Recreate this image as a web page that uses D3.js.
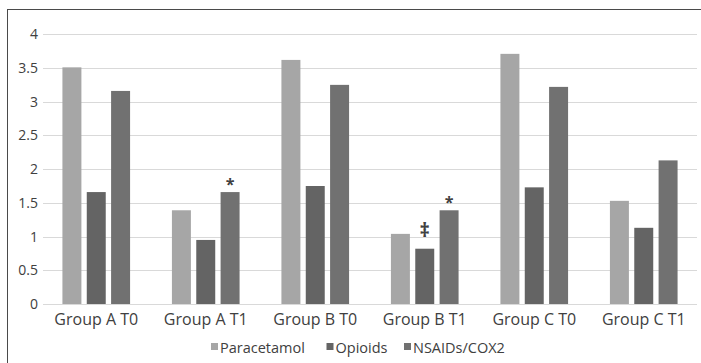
<!DOCTYPE html>
<html><head><meta charset="utf-8">
<script src="https://cdn.jsdelivr.net/npm/d3@7"></script>
<style>
body{margin:0;background:#fff;}
text{font-family:"Open Sans","Noto Sans",sans-serif;fill:#404040;}
</style></head>
<body><svg id="c" width="701" height="363"></svg>
<script>
const categories = ["Group A T0","Group A T1","Group B T0","Group B T1","Group C T0","Group C T1"];
const seriesNames = ["Paracetamol","Opioids","NSAIDs/COX2"];
const paracetamol = [3.51,1.39,3.62,1.04,3.71,1.53];
const opioids = [1.66,0.95,1.75,0.82,1.73,1.13];
const nsaids = [3.16,1.66,3.25,1.39,3.22,2.13];
const yTicks = [0,0.5,1,1.5,2,2.5,3,3.5,4];
const yTickLabels = ["0","0.5","1","1.5","2","2.5","3","3.5","4"];
const annotations = [
  {cat:"Group A T1", series:"NSAIDs/COX2", mark:"*"},
  {cat:"Group B T1", series:"Opioids", mark:"‡"},
  {cat:"Group B T1", series:"NSAIDs/COX2", mark:"*"}
];
const colors = ["#a6a6a6","#646464","#717171"];
const values = [paracetamol, opioids, nsaids];

const svg = d3.select("#c");
svg.append("rect").attr("x",7.5).attr("y",9.5).attr("width",720).attr("height",380)
  .attr("fill","none").attr("stroke","#4a4a4a").attr("stroke-width",1);

const x0 = d3.scaleBand().domain(categories).range([41.5,698.5]).padding(0);
const x1 = d3.scaleBand().domain(seriesNames).range([0,x0.bandwidth()]).paddingInner(0.22).paddingOuter(0.86);
const y = d3.scaleLinear().domain([0,4]).range([304,34.3]);

const grid = svg.append("g");
grid.selectAll("line").data(yTicks).join("line")
  .attr("x1",43).attr("x2",697)
  .attr("y1",d=>Math.round(y(d))+0.5).attr("y2",d=>Math.round(y(d))+0.5)
  .attr("stroke","#d9d9d9").attr("stroke-width",1);

const yAxis = d3.axisLeft(y).tickValues(yTicks).tickFormat((d,i)=>yTickLabels[i]).tickSize(0).tickPadding(5);
const ya = svg.append("g").attr("transform","translate(43,0)").call(yAxis);
ya.select(".domain").remove();
ya.selectAll("text").attr("font-size",14).attr("fill","#404040")
  .style("font-family",'"Open Sans","Noto Sans",sans-serif');

const groups = svg.append("g").selectAll("g").data(categories).join("g")
  .attr("transform",d=>`translate(${x0(d)},0)`);
groups.selectAll("rect").data((d,i)=>seriesNames.map((s,j)=>({s,j,v:values[j][i]})))
  .join("rect")
  .attr("x",d=>x1(d.s)).attr("width",x1.bandwidth())
  .attr("y",d=>y(d.v)).attr("height",d=>y(0)-y(d.v))
  .attr("fill",d=>colors[d.j]);

const catIndex = c=>categories.indexOf(c);
svg.append("g").selectAll("text").data(annotations).join("text")
  .attr("x",d=>x0(d.cat)+x1(d.series)+x1.bandwidth()/2)
  .attr("y",d=>{const j=seriesNames.indexOf(d.series);return y(values[j][catIndex(d.cat)])-(d.mark==="*"?2:12);})
  .attr("text-anchor","middle").attr("font-size",d=>d.mark==="*"?16:20).attr("font-weight","bold")
  .attr("fill","#222").text(d=>d.mark);

const xAxis = d3.axisBottom(x0).tickSize(0).tickPadding(10);
const xa = svg.append("g").attr("transform","translate(0,304)").call(xAxis);
xa.select(".domain").remove();
xa.selectAll("text").attr("font-size",16).attr("fill","#404040")
  .style("font-family",'"Open Sans","Noto Sans",sans-serif');

const legendX = [211,326.5,404];
const lg = svg.append("g").selectAll("g").data(seriesNames).join("g")
  .attr("transform",(d,i)=>`translate(${legendX[i]},0)`);
lg.append("rect").attr("x",0).attr("y",343).attr("width",7).attr("height",7).attr("fill",(d,i)=>colors[i]);
lg.append("text").attr("x",9).attr("y",352.5).attr("font-size",14.5).attr("fill","#404040").text(d=>d);
</script></body></html>
